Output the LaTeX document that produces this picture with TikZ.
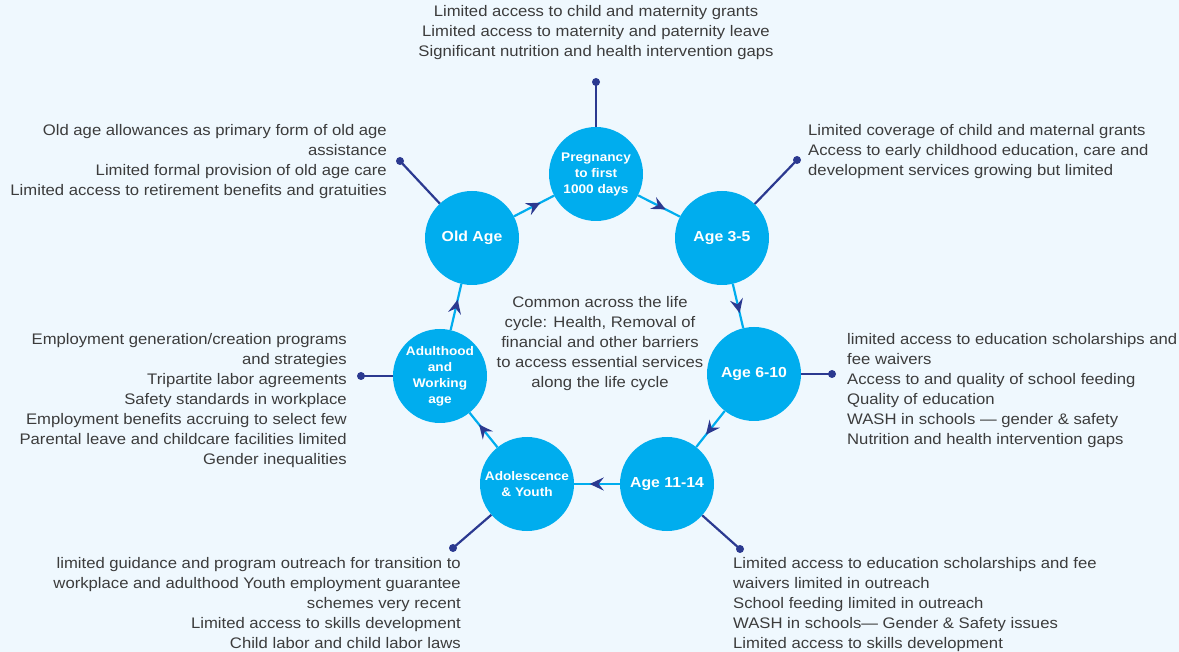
\documentclass[tikz,border=0pt]{standalone}
\usepackage{fontspec}
\setmainfont{Liberation Sans}[FakeStretch=1.09]
\usetikzlibrary{arrows.meta,decorations.markings}
\definecolor{bg}{HTML}{EFF8FE}
\definecolor{cyanc}{HTML}{00ADEE}
\definecolor{navy}{HTML}{2B3990}
\definecolor{txt}{HTML}{3C3C3C}
\tikzset{
  stage/.style={circle,fill=cyanc,minimum size=94pt,inner sep=0pt,text=white,align=center,font=\fontsize{14.5}{18}\selectfont\bfseries},
  stagesmall/.style={stage,font=\fontsize{12.5}{16}\selectfont\bfseries},
  flow/.style={draw=cyanc,line width=2.2pt,postaction={decorate},decoration={markings,mark=at position 0.66 with {\arrow[navy]{Stealth[length=14pt,width=13pt,inset=5pt]}}}},
  link/.style={draw=navy,line width=2.2pt},
  dotc/.style={fill=navy},
  body/.style={inner sep=0pt,text=txt,font=\fontsize{15.3}{20}\selectfont},
}
\begin{document}
\begin{tikzpicture}[x=1pt,y=-1pt]
\fill[bg] (0,0) rectangle (1179,652);
\useasboundingbox (0,0) rectangle (1179,652);
% stages
\node[stagesmall] (preg) at (596,174) {Pregnancy\\to first\\1000 days};
\node[stage] (a35) at (722,238) {Age 3-5};
\node[stage] (a610) at (754,374) {Age 6-10};
\node[stage] (a1114) at (667,484) {Age 11-14};
\node[stagesmall] (ado) at (527,484) {Adolescence\\\& Youth};
\node[stagesmall] (adu) at (440,376) {Adulthood\\and\\Working\\age};
\node[stage] (old) at (472,238) {Old Age};
% cycle arrows
\path[flow] (preg) -- (a35);
\path[flow] (a35) -- (a610);
\path[flow] (a610) -- (a1114);
\path[flow] (a1114) -- (ado);
\path[flow] (ado) -- (adu);
\path[flow] (adu) -- (old);
\path[flow] (old) -- (preg);
% connector end points
\coordinate (dpreg) at (596,82);
\coordinate (da35) at (797,160);
\coordinate (da610) at (832,374);
\coordinate (da1114) at (740,549);
\coordinate (dado) at (453,548);
\coordinate (dadu) at (361,376);
\coordinate (dold) at (400,161);
\foreach \s/\d in {preg/dpreg,a35/da35,a610/da610,a1114/da1114,ado/dado,adu/dadu,old/dold}{
  \draw[link] (\s) -- (\d);
  \fill[dotc] (\d) circle (4pt);
}
% texts
\node[body,anchor=north,align=center] (tpreg) at (596,5.5) {Limited access to child and maternity grants\\Limited access to maternity and paternity leave\\Significant nutrition and health intervention gaps};
\node[body,anchor=north east,align=right] (told) at (387,124) {Old age allowances as primary form of old age\\assistance\\Limited formal provision of old age care\\Limited access to retirement benefits and gratuities};
\node[body,anchor=north west,align=left] (ta35) at (808,124) {Limited coverage of child and maternal grants\\Access to early childhood education, care and\\development services growing but limited};
\node[body,anchor=north west,align=left] (ta610) at (847,333) {limited access to education scholarships and\\fee waivers\\Access to and quality of school feeding\\Quality of education\\WASH in schools --- gender \& safety\\Nutrition and health intervention gaps};
\node[body,anchor=north west,align=left] (ta1114) at (733,557) {Limited access to education scholarships and fee\\waivers limited in outreach\\School feeding limited in outreach\\WASH in schools--- Gender \& Safety issues\\Limited access to skills development};
\node[body,anchor=north east,align=right] (tado) at (461,557) {limited guidance and program outreach for transition to\\workplace and adulthood Youth employment guarantee\\schemes very recent\\Limited access to skills development\\Child labor and child labor laws};
\node[body,anchor=north east,align=right] (tadu) at (347,333) {Employment generation/creation programs\\and strategies\\Tripartite labor agreements\\Safety standards in workplace\\Employment benefits accruing to select few\\Parental leave and childcare facilities limited\\Gender inequalities};
\node[body,anchor=north,align=center] (tcenter) at (600,296) {Common across the life\\cycle: Health, Removal of\\financial and other barriers\\to access essential services\\along the life cycle};
\end{tikzpicture}
\end{document}
